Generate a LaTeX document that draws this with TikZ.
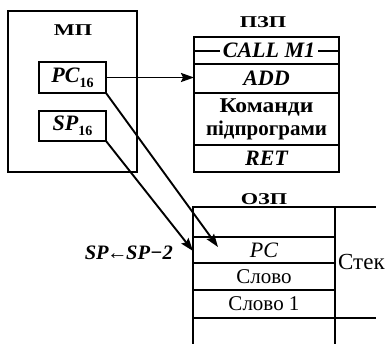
\documentclass[tikz,border=0pt]{standalone}
\usepackage{fontspec}
\setmainfont{Liberation Serif}
\usetikzlibrary{arrows.meta}
\begin{document}
\begin{tikzpicture}[x=1pt,y=-1pt,
  box/.style={draw, line width=2.2pt, inner sep=0pt, outer sep=0pt},
  lat/.style={font=\fontsize{22}{22}\selectfont\bfseries\itshape},
  cyr/.style={font=\fontsize{21}{23}\selectfont\bfseries},
  sc/.style={font=\fontsize{16.5}{16}\selectfont\bfseries},
  ln/.style={line width=2.2pt},
  arr/.style={line width=1.9pt, -{Stealth[length=13pt,width=9pt,inset=2pt]}}
]
\useasboundingbox (0,0) rectangle (388,344);
% MP
\node[box, minimum width=129pt, minimum height=161pt] (mp) at (72.5,91.5) {};
\node[sc, anchor=base] (mpl) at (73,36) {\scalebox{1.35}[1]{МП}};
\node[box, lat, minimum width=67pt, minimum height=31pt] (pc) at (72.5,77.5) {PC\raisebox{-5pt}{\fontsize{14}{14}\selectfont\upshape 16}};
\node[box, lat, minimum width=67pt, minimum height=30pt] (sp) at (72.5,126) {SP\raisebox{-5pt}{\fontsize{14}{14}\selectfont\upshape 16}};
% PZP
\node[sc, anchor=base] (pzpl) at (263,28) {\scalebox{1.35}[1]{ПЗП}};
\node[box, minimum width=145pt, minimum height=27pt] (callrow) at (266.5,50.5) {};
\draw[ln] (callrow.west |- 0,51) -- (callrow.east |- 0,51);
\node[lat, fill=white, inner xsep=3pt, inner ysep=1pt] (calltxt) at (269,50) {CALL M1};
\node[box, lat, minimum width=145pt, minimum height=29pt] (addrow) at (266.5,78.5) {ADD};
\node[box, cyr, minimum width=145pt, minimum height=52pt, align=center] (cmdrow) at (266.5,119) {\scalebox{1.12}[1]{Команди}\\підпрограми};
\node[box, lat, minimum width=145pt, minimum height=27pt] (retrow) at (266.5,158.5) {RET};
% OZP
\node[sc, anchor=base] (ozpl) at (264,205) {\scalebox{1.35}[1]{ОЗП}};
\node[box, minimum width=142pt, minimum height=30pt] (cell0) at (264,222) {};
\node[box, font=\fontsize{22}{22}\selectfont\itshape, minimum width=142pt, minimum height=26pt] (cellpc) at (264,250) {PC};
\node[box, font=\fontsize{21}{20}\selectfont, minimum width=142pt, minimum height=27pt] (cellsl) at (264,276.5) {Слово};
\node[box, font=\fontsize{21}{20}\selectfont, minimum width=142pt, minimum height=28pt] (cellsl1) at (264,304) {Слово 1};
\draw[ln] (cell0.north east) -- ++(41,0);
\draw[ln] (cellsl1.south west) -- (cellsl1.south east) -- ++(41,0);
\draw[ln] (cellsl1.south west) -- ++(0,28);
\draw[ln] (cellsl1.south east) -- ++(0,28);
\node[font=\fontsize{23}{22}\selectfont, anchor=west, inner sep=0pt] (stek) at (338,262) {Стек};
\node[font=\fontsize{20.5}{22}\selectfont\bfseries\itshape, anchor=east, inner sep=0pt] (spl) at (173,253) {SP\kern-1.5pt←\kern-1.5pt SP−2};
% arrows
\draw[arr] (pc.east) -- (pc.east -| addrow.west);
\coordinate (pctip) at (218,247);
\draw[arr] (pc.south east) -- (pctip);
\coordinate (sptip) at (193,251);
\draw[arr] (sp.south east) -- (sptip);
\end{tikzpicture}
\end{document}
